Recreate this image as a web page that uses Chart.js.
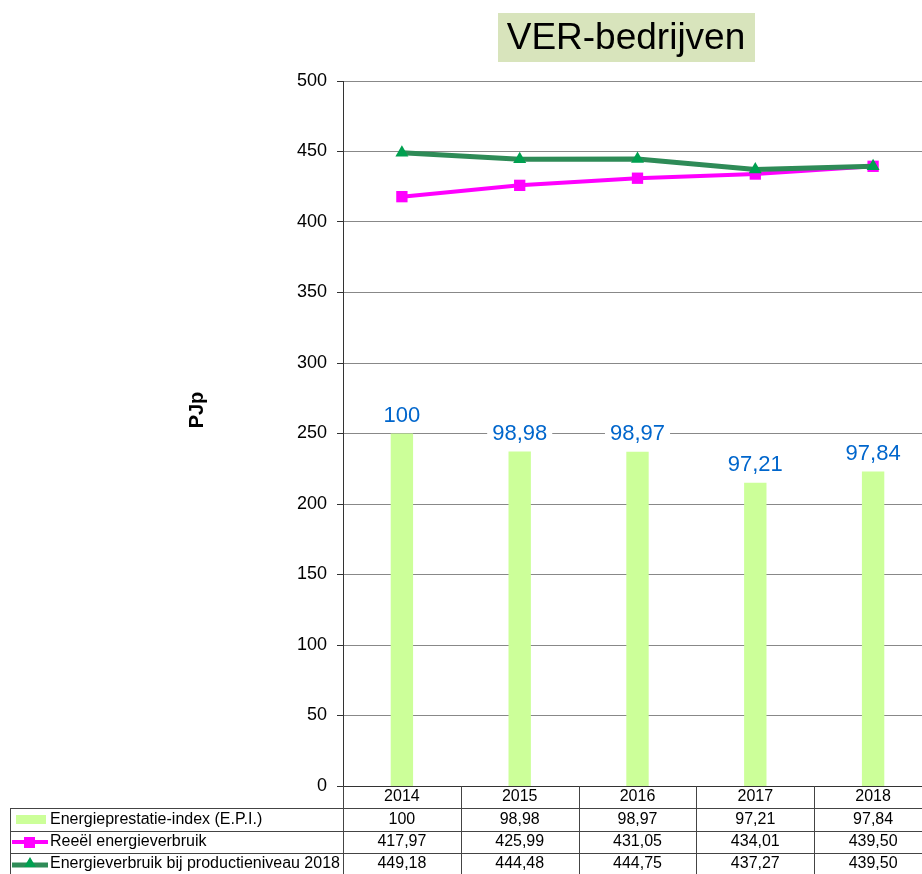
<!DOCTYPE html>
<html>
<head>
<meta charset="utf-8">
<script src="https://cdn.jsdelivr.net/npm/chart.js@4/dist/chart.umd.min.js"></script>
<style>
  html, body { margin: 0; padding: 0; background: #fff; overflow: hidden; }
  #wrap { width: 940px; height: 874px; }
</style>
</head>
<body>
<div id="wrap"><canvas id="chart" width="940" height="874"></canvas></div>
<script>
var years = ['2014', '2015', '2016', '2017', '2018'];
var epi = [100, 98.98, 98.97, 97.21, 97.84];
var reeel = [417.97, 425.99, 431.05, 434.01, 439.50];
var productie = [449.18, 444.48, 444.75, 437.27, 439.50];
var seriesNames = ['Energieprestatie-index (E.P.I.)', 'Reeël energieverbruik', 'Energieverbruik bij productieniveau 2018'];
var chartTitle = 'VER-bedrijven';
var axisTitle = 'PJp';

var FONT = 'Liberation Sans, Arial, sans-serif';

function fmt(v) {
  return Number.isInteger(v) ? String(v) : v.toFixed(2).replace('.', ',');
}

// title box, axis title, bar labels and the data table under the chart
var extras = {
  id: 'extras',
  afterDraw: function (chart) {
    var ctx = chart.ctx;
    var x = chart.scales.x;
    var area = chart.chartArea;
    ctx.save();

    // title
    ctx.fillStyle = '#D8E4BC';
    ctx.fillRect(498, 13, 257, 49);
    ctx.fillStyle = '#000';
    ctx.font = '37px ' + FONT;
    ctx.textAlign = 'center';
    ctx.textBaseline = 'middle';
    ctx.fillText(chartTitle, 626, 39);

    // y axis title
    ctx.save();
    ctx.translate(197, 410);
    ctx.rotate(-Math.PI / 2);
    ctx.font = 'bold 20px ' + FONT;
    ctx.fillText(axisTitle, 0, 0);
    ctx.restore();

    // bar value labels
    var meta = chart.getDatasetMeta(0);
    ctx.font = '22px ' + FONT;
    meta.data.forEach(function (bar, i) {
      var t = fmt(epi[i]);
      var w = ctx.measureText(t).width;
      var cy = bar.y - 19;
      ctx.fillStyle = '#fff';
      ctx.fillRect(bar.x - w / 2 - 5, cy - 12, w + 10, 24);
      ctx.fillStyle = '#0066CC';
      ctx.fillText(t, bar.x, cy + 1);
    });

    // table
    var half = (x.getPixelForValue(1) - x.getPixelForValue(0)) / 2;
    var rowTops = [area.bottom, 808, 831, 853];
    var rowMid = [797, 820, 842, 864];
    ctx.strokeStyle = '#444';
    ctx.lineWidth = 1;
    ctx.beginPath();
    for (var k = 0; k <= years.length; k++) {
      var vx = Math.round(x.getPixelForValue(k) - half) + 0.5;
      ctx.moveTo(vx, area.bottom);
      ctx.lineTo(vx, 874);
    }
    ctx.moveTo(10.5, 808);
    ctx.lineTo(10.5, 874);
    for (var r = 1; r < rowTops.length; r++) {
      ctx.moveTo(10, rowTops[r] + 0.5);
      ctx.lineTo(chart.width, rowTops[r] + 0.5);
    }
    ctx.stroke();

    ctx.fillStyle = '#000';
    ctx.font = '16px ' + FONT;
    ctx.textAlign = 'center';
    years.forEach(function (y, i) {
      var cx = x.getPixelForValue(i);
      ctx.fillText(y, cx, rowMid[0]);
      ctx.fillText(fmt(epi[i]), cx, rowMid[1]);
      ctx.fillText(fmt(reeel[i]), cx, rowMid[2]);
      ctx.fillText(fmt(productie[i]), cx, rowMid[3]);
    });

    ctx.textAlign = 'left';
    seriesNames.forEach(function (n, i) {
      ctx.fillText(n, 50, rowMid[i + 1]);
    });

    // legend keys
    ctx.fillStyle = '#CCFF99';
    ctx.fillRect(16, 815, 30, 9);
    ctx.strokeStyle = '#FF00FF';
    ctx.lineWidth = 4;
    ctx.beginPath();
    ctx.moveTo(12, 842);
    ctx.lineTo(48, 842);
    ctx.stroke();
    ctx.fillStyle = '#FF00FF';
    ctx.fillRect(24, 837, 11, 11);
    ctx.strokeStyle = '#2E8B57';
    ctx.lineWidth = 5;
    ctx.beginPath();
    ctx.moveTo(12, 865);
    ctx.lineTo(48, 865);
    ctx.stroke();
    ctx.fillStyle = '#00A050';
    ctx.beginPath();
    ctx.moveTo(30, 857);
    ctx.lineTo(36, 867);
    ctx.lineTo(24, 867);
    ctx.closePath();
    ctx.fill();

    ctx.restore();
  }
};

var data = {
  labels: years,
  datasets: [{
    type: 'bar',
    label: seriesNames[0],
    data: epi,
    yAxisID: 'y2',
    backgroundColor: '#CCFF99',
    categoryPercentage: 1,
    barPercentage: 0.19,
    order: 3
  }, {
    type: 'line',
    label: seriesNames[1],
    data: reeel,
    yAxisID: 'y',
    borderColor: '#FF00FF',
    backgroundColor: '#FF00FF',
    borderWidth: 4,
    pointStyle: 'rect',
    pointRadius: 8,
    pointBorderWidth: 0,
    tension: 0,
    order: 2
  }, {
    type: 'line',
    label: seriesNames[2],
    data: productie,
    yAxisID: 'y',
    borderColor: '#2E8B57',
    backgroundColor: '#00A050',
    borderWidth: 5,
    pointStyle: 'triangle',
    pointRadius: 7.5,
    pointBorderWidth: 0,
    tension: 0,
    order: 1
  }]
};

var config = {
  type: 'bar',
  data: data,
  options: {
    responsive: false,
    animation: false,
    layout: {
      padding: { top: 81, left: 185, right: 0, bottom: 88 }
    },
    plugins: {
      legend: { display: false },
      tooltip: { enabled: false }
    },
    scales: {
      x: {
        display: false
      },
      y: {
        position: 'left',
        min: 0,
        max: 500,
        ticks: {
          stepSize: 50,
          padding: 10,
          color: '#000',
          font: { family: FONT, size: 18 }
        },
        grid: {
          color: function (c) { return c.tick && c.tick.value === 0 ? '#333' : '#888'; },
          tickLength: 6,
          tickColor: '#333'
        },
        border: { color: '#333' },
        afterFit: function (scale) { scale.width = 158; }
      },
      y2: {
        display: false,
        min: 80,
        max: 120
      }
    }
  },
  plugins: [extras]
};

new Chart(document.getElementById('chart'), config);
</script>
</body>
</html>
